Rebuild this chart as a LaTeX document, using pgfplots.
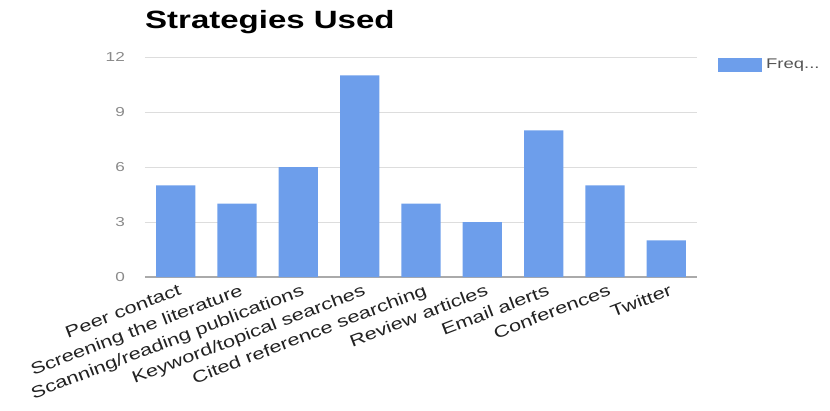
\documentclass[border=0pt]{standalone}
\usepackage{pgfplots}
\pgfplotsset{compat=1.18}
\usepackage{fontspec}
\setmainfont{Liberation Sans}[FakeStretch=1.32]
\definecolor{barblue}{HTML}{6D9EEB}
\definecolor{gridgray}{HTML}{DDDDDD}
\definecolor{axisgray}{HTML}{AAAAAA}
\definecolor{ticktext}{HTML}{8A8A8A}
\definecolor{labeltext}{HTML}{222222}
\definecolor{legtext}{HTML}{555555}
\begin{document}
\begin{tikzpicture}
\useasboundingbox (0,0) rectangle (830pt,410pt);
\begin{axis}[
  at={(145pt,133pt)}, anchor=south west,
  scale only axis, width=552pt, height=220pt,
  ybar, bar width=0.64,
  xmin=-0.5, xmax=8.5, ymin=0, ymax=12,
  ytick={0,3,6,9,12},
  xtick=data,
  xticklabels={Peer contact,Screening the literature,Scanning/reading publications,Keyword/topical searches,Cited reference searching,Review articles,Email alerts,Conferences,Twitter},
  xticklabel style={font=\fontsize{16.5}{16.5}\selectfont, text=labeltext, rotate=21, anchor=north east, inner sep=1pt, xshift=1pt, yshift=-6pt},
  yticklabel style={font=\fontsize{13}{13}\selectfont, text=ticktext, anchor=east, inner sep=0pt, xshift=-20pt},
  /pgf/number format/assume math mode=true,
  major tick length=0pt,
  ymajorgrids, major grid style={gridgray, line width=1pt},
  axis lines*=left,
  y axis line style={draw=none},
  x axis line style={draw=axisgray, line width=1.3pt},
  title={\bfseries Strategies Used},
  title style={at={(axis description cs:0,1)}, anchor=base west, yshift=23pt, inner sep=0pt, font=\fontsize{25}{25}\selectfont, text=black},
  legend style={at={(axis description cs:1,1)}, anchor=north west, xshift=21pt, draw=none, fill=none, inner sep=0pt, font=\fontsize{14}{14}\selectfont, text=legtext, row sep=0pt},
  legend image code/.code={\fill[barblue] (0pt,-7pt) rectangle (44pt,7pt);},
  legend cell align=left,
]
\addplot[fill=barblue, draw=none] coordinates {(0,5) (1,4) (2,6) (3,11) (4,4) (5,3) (6,8) (7,5) (8,2)};
\addlegendentry{\hspace{2pt}Freq...}
\end{axis}
\end{tikzpicture}
\end{document}
